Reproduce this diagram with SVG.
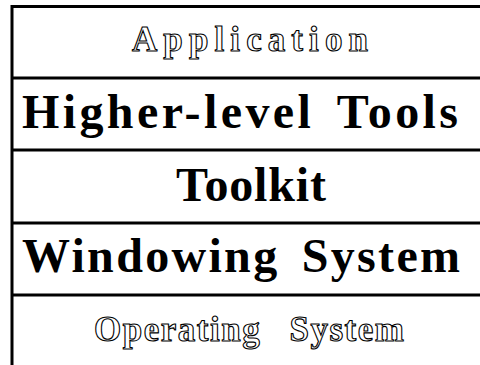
<svg xmlns="http://www.w3.org/2000/svg" width="480" height="365" viewBox="0 0 480 365">
<style>
.ln{stroke:#000;stroke-width:3;fill:none}
.bold{font-family:"Liberation Serif","Times New Roman",serif;font-weight:bold;font-size:48px;fill:#000}
.outl{font-family:"Liberation Serif","Times New Roman",serif;font-weight:bold;font-size:35px;fill:#fff;stroke:#000;stroke-width:1.1}
</style>
<rect width="480" height="365" fill="#fff"/>
<g id="frame">
<path class="ln" d="M12,365 V6.5 H480"/>
<path class="ln" d="M12,78 H480 M12,150 H480 M12,223 H480 M12,295 H480"/>
</g>
<g id="application"><text class="outl" x="132" y="50.5" textLength="236" lengthAdjust="spacing">Application</text></g>
<g id="higher"><text class="bold" x="22" y="128" textLength="436" lengthAdjust="spacing" style="word-spacing:8px">Higher-level Tools</text></g>
<g id="toolkit"><text class="bold" x="176" y="201" textLength="150" lengthAdjust="spacing">Toolkit</text></g>
<g id="windowing"><text class="bold" x="22" y="272" textLength="438" lengthAdjust="spacing" style="word-spacing:8px">Windowing System</text></g>
<g id="os"><text class="outl" x="94" y="341" textLength="310" lengthAdjust="spacing" style="word-spacing:18px">Operating System</text></g>
</svg>
